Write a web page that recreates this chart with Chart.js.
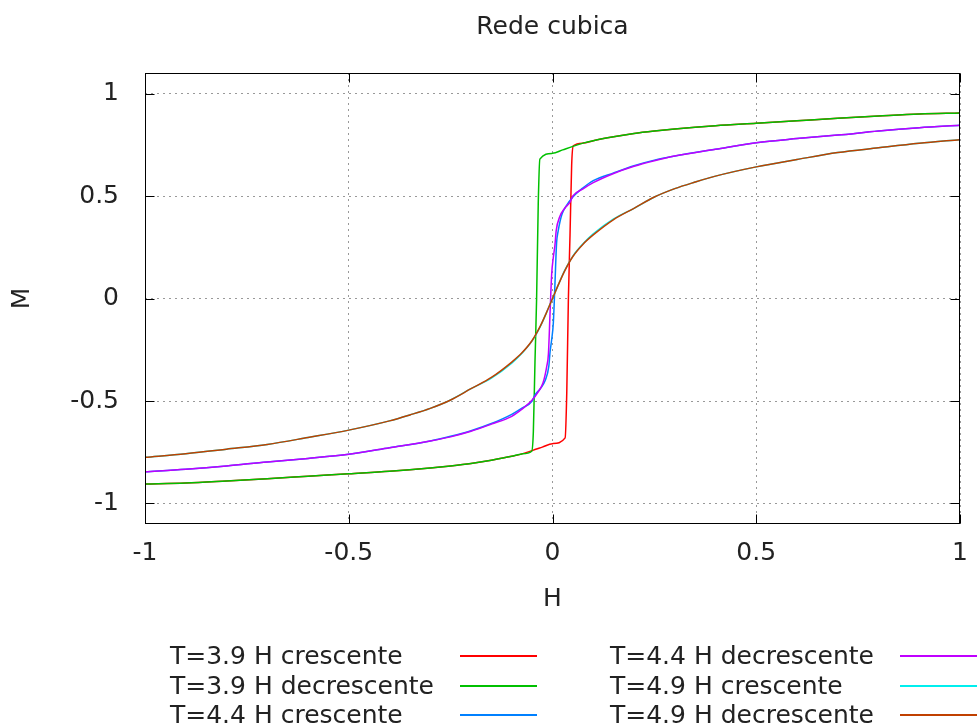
<!DOCTYPE html>
<html><head><meta charset="utf-8">
<script src="https://cdn.jsdelivr.net/npm/chart.js@4/dist/chart.umd.min.js"></script>
<style>
html,body{margin:0;padding:0;background:#fff;}
#wrap{position:relative;width:977px;height:726px;overflow:hidden;background:#fff;}
canvas{position:absolute;left:0;top:0;}
.lg{position:absolute;font-family:"DejaVu Sans",sans-serif;font-size:25px;color:#222;white-space:nowrap;line-height:30px;}
.ls{position:absolute;height:2px;}
</style></head><body>
<div id="wrap"><canvas id="c" width="977" height="726"></canvas></div>
<script>
// ---- labels ----
const chartTitle = 'Rede cubica';
const xTitle = 'H';
const yTitle = 'M';
const seriesLabels = ['T=3.9 H crescente','T=3.9 H decrescente','T=4.4 H crescente','T=4.4 H decrescente','T=4.9 H crescente','T=4.9 H decrescente'];
const seriesColors = ['#ff0000','#00c000','#0080ff','#c000ff','#00eeee','#c04000'];
const xTickVals = [-1,-0.5,0,0.5,1];
const xTickLabels = ['-1','-0.5','0','0.5','1'];
const yTickVals = [-1,-0.5,0,0.5,1];
const yTickLabels = ['-1','-0.5','0','0.5','1'];

// ---- T=3.9 ----
const h39c = [-1,-0.9,-0.8,-0.7,-0.6,-0.5,-0.4,-0.3,-0.25,-0.2,-0.15,-0.1,-0.075,-0.05,-0.025,0,0.031,0.035,0.039,0.043,0.047,0.051,0.075,0.1,0.15,0.2,0.25,0.3,0.4,0.5,0.6,0.7,0.8,0.9,1];
const m39c = [-0.905,-0.9,-0.89,-0.879,-0.867,-0.855,-0.843,-0.827,-0.817,-0.805,-0.789,-0.77,-0.758,-0.742,-0.725,-0.708,-0.68,-0.46,0,0.31,0.65,0.745,0.758,0.77,0.789,0.805,0.817,0.827,0.843,0.855,0.867,0.879,0.89,0.9,0.905];
const h39d = [-1,-0.9,-0.8,-0.7,-0.6,-0.5,-0.4,-0.3,-0.25,-0.2,-0.15,-0.1,-0.075,-0.051,-0.047,-0.043,-0.039,-0.035,-0.031,0,0.025,0.05,0.075,0.1,0.15,0.2,0.25,0.3,0.4,0.5,0.6,0.7,0.8,0.9,1];
const m39d = [-0.905,-0.9,-0.89,-0.879,-0.867,-0.855,-0.843,-0.827,-0.817,-0.805,-0.789,-0.77,-0.758,-0.745,-0.65,-0.31,0,0.46,0.68,0.708,0.725,0.742,0.758,0.77,0.789,0.805,0.817,0.827,0.843,0.855,0.867,0.879,0.89,0.9,0.905];

// ---- T=4.4 ----
const h44c = [-1,-0.9,-0.8,-0.7,-0.6,-0.5,-0.4,-0.3,-0.25,-0.2,-0.15,-0.1,-0.075,-0.05,-0.043,-0.03,-0.018,-0.009,-0.006,-0.002,0.002,0.006,0.01,0.014,0.023,0.035,0.05,0.075,0.1,0.15,0.2,0.25,0.3,0.4,0.5,0.6,0.7,0.8,0.9,1];
const m44c = [-0.845,-0.833,-0.817,-0.797,-0.78,-0.76,-0.728,-0.695,-0.672,-0.645,-0.61,-0.565,-0.535,-0.5,-0.47,-0.44,-0.4,-0.33,-0.26,-0.2,-0.12,0.07,0.27,0.33,0.41,0.455,0.495,0.54,0.575,0.613,0.648,0.675,0.695,0.728,0.76,0.78,0.797,0.817,0.833,0.845];
const h44d = [-1,-0.9,-0.8,-0.7,-0.6,-0.5,-0.4,-0.3,-0.25,-0.2,-0.15,-0.1,-0.075,-0.05,-0.035,-0.023,-0.014,-0.01,-0.006,-0.002,0.002,0.006,0.009,0.018,0.03,0.043,0.05,0.075,0.1,0.15,0.2,0.25,0.3,0.4,0.5,0.6,0.7,0.8,0.9,1];
const m44d = [-0.845,-0.833,-0.817,-0.797,-0.78,-0.76,-0.728,-0.695,-0.675,-0.648,-0.613,-0.575,-0.54,-0.495,-0.455,-0.41,-0.33,-0.27,-0.07,0.12,0.2,0.26,0.33,0.4,0.44,0.47,0.5,0.535,0.565,0.61,0.645,0.672,0.695,0.728,0.76,0.78,0.797,0.817,0.833,0.845];

// ---- T=4.9 ----
const h49c = [-1,-0.9,-0.8,-0.7,-0.6,-0.5,-0.4,-0.35,-0.3,-0.25,-0.2,-0.15,-0.1,-0.075,-0.05,-0.03,-0.015,0,0.015,0.03,0.05,0.075,0.1,0.15,0.2,0.25,0.3,0.35,0.4,0.5,0.6,0.7,0.8,0.9,1];
const m49c = [-0.775,-0.757,-0.735,-0.712,-0.678,-0.642,-0.597,-0.568,-0.536,-0.495,-0.44,-0.388,-0.315,-0.267,-0.207,-0.137,-0.07,0,0.07,0.137,0.207,0.267,0.315,0.388,0.44,0.495,0.536,0.568,0.597,0.642,0.678,0.712,0.735,0.757,0.775];
const h49d = [-1,-0.9,-0.8,-0.7,-0.6,-0.5,-0.4,-0.35,-0.3,-0.25,-0.2,-0.15,-0.1,-0.075,-0.05,-0.03,-0.015,0,0.015,0.03,0.05,0.075,0.1,0.15,0.2,0.25,0.3,0.35,0.4,0.5,0.6,0.7,0.8,0.9,1];
const m49d = [-0.775,-0.757,-0.735,-0.712,-0.678,-0.642,-0.597,-0.568,-0.536,-0.495,-0.44,-0.385,-0.31,-0.265,-0.205,-0.135,-0.07,0,0.07,0.135,0.205,0.265,0.31,0.385,0.44,0.495,0.536,0.568,0.597,0.642,0.678,0.712,0.735,0.757,0.775];

const seriesH = [h39c,h39d,h44c,h44d,h49c,h49d];
const seriesM = [m39c,m39d,m44c,m44d,m49c,m49d];

const FONT = '"DejaVu Sans", sans-serif';
const TXT = '#222';

const datasets = seriesLabels.map((lab,i)=>({
  label: lab,
  data: seriesH[i].map((h,k)=>({x:h, y:seriesM[i][k]})),
  borderColor: seriesColors[i],
  backgroundColor: seriesColors[i],
  borderWidth: 1.5,
  pointRadius: 0,
  showLine: true,
  fill: false,
  cubicInterpolationMode: 'monotone',
  order: seriesLabels.length - 1 - i
}));

const framePlugin = {
  id: 'frame',
  afterDatasetsDraw(chart){
    const {ctx, chartArea:a, scales:{x,y}} = chart;
    const L = Math.round(a.left)+0.5, R = Math.round(a.right)-0.5, T = Math.round(a.top)+0.5, B = Math.round(a.bottom)-0.5;
    ctx.save();
    ctx.strokeStyle = '#000';
    ctx.lineWidth = 1;
    ctx.beginPath();
    const tl = 9;
    xTickVals.forEach(v=>{
      const px = Math.round(x.getPixelForValue(v))+0.5;
      ctx.moveTo(px,B); ctx.lineTo(px,B-tl);
      ctx.moveTo(px,T); ctx.lineTo(px,T+tl);
    });
    yTickVals.forEach(v=>{
      const py = Math.round(y.getPixelForValue(v))+0.5;
      ctx.moveTo(L,py); ctx.lineTo(L+tl,py);
      ctx.moveTo(R,py); ctx.lineTo(R-tl,py);
    });
    ctx.stroke();
    ctx.strokeRect(L,T,R-L,B-T);
    ctx.restore();
  }
};

new Chart(document.getElementById('c'), {
  type: 'scatter',
  data: {datasets},
  options: {
    responsive: false,
    animation: false,
    devicePixelRatio: 1,
    layout: {padding: {left:0, right:17, top:0, bottom:112}},
    plugins: {
      legend: {display:false},
      tooltip: {enabled:false},
      title: {display:true, text: chartTitle, color: TXT, fullSize:false,
        font:{family:FONT, size:25, weight:'normal', lineHeight:1.2},
        padding:{top:12, bottom:31}}
    },
    scales: {
      x: {
        type:'linear', min:-1, max:1,
        afterFit(s){ s.height = 90; s.paddingLeft = 0; s.paddingRight = 0; },
        afterBuildTicks(s){ s.ticks = xTickVals.map(v=>({value:v})); },
        ticks:{autoSkip:false, maxRotation:0, padding:14, color:TXT,
          font:{family:FONT, size:25, lineHeight:1.2},
          callback:(v,i)=>xTickLabels[i]},
        grid:{color:'#999999', lineWidth:1, drawTicks:false},
        border:{display:false, dash:[2,4]},
        title:{display:true, text:xTitle, color:TXT, padding:{top:0,bottom:0},
          font:{family:FONT, size:25, lineHeight:1.2}}
      },
      y: {
        type:'linear', min:-1.1, max:1.1,
        afterFit(s){ s.width = 145; s.paddingTop = 0; s.paddingBottom = 0; },
        afterBuildTicks(s){ s.ticks = yTickVals.map(v=>({value:v})); },
        ticks:{autoSkip:false, padding:26, color:TXT,
          font:{family:FONT, size:25, lineHeight:1.2},
          callback:(v,i)=>yTickLabels[i]},
        grid:{color:'#999999', lineWidth:1, drawTicks:false},
        border:{display:false, dash:[2,4]},
        title:{display:true, text:yTitle, color:TXT, padding:{top:7,bottom:0},
          font:{family:FONT, size:25, lineHeight:1.2}}
      }
    }
  },
  plugins: [framePlugin]
});

// ---- legend (HTML) ----
const wrap = document.getElementById('wrap');
const legCols = [{textX:170, lineX:460}, {textX:610, lineX:900}];
const legRowsY = [656, 686, 715];
const lineLen = 77;
seriesLabels.forEach((lab,i)=>{
  const col = legCols[Math.floor(i/3)];
  const cy = legRowsY[i%3];
  const t = document.createElement('div');
  t.className = 'lg';
  t.textContent = lab;
  t.style.left = col.textX + 'px';
  t.style.top = (cy - 15) + 'px';
  wrap.appendChild(t);
  const l = document.createElement('div');
  l.className = 'ls';
  l.style.left = col.lineX + 'px';
  l.style.width = lineLen + 'px';
  l.style.top = (cy - 1) + 'px';
  l.style.background = seriesColors[i];
  wrap.appendChild(l);
});
</script>
</body></html>
